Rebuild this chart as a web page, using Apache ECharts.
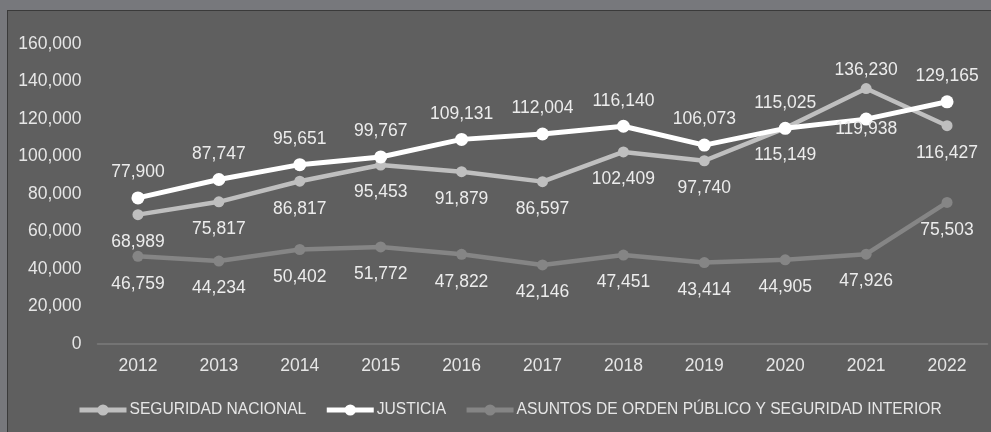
<!DOCTYPE html>
<html>
<head>
<meta charset="utf-8">
<script src="https://cdn.jsdelivr.net/npm/echarts@6/dist/echarts.min.js"></script>
<style>
html,body{margin:0;padding:0;background:#77787c;width:991px;height:432px;overflow:hidden;}
#box{position:absolute;left:7px;top:10px;width:1000px;height:440px;background:#5f5f5f;border-left:1px solid #3a3a3a;border-top:1px solid #3a3a3a;}
#chart{position:absolute;left:0;top:0;width:991px;height:432px;}
</style>
</head>
<body>
<div id="box"></div>
<div id="chart"></div>
<script>
const years = ['2012','2013','2014','2015','2016','2017','2018','2019','2020','2021','2022'];
const seguridadNacional = [68989, 75817, 86817, 95453, 91879, 86597, 102409, 97740, 115149, 136230, 116427];
const justicia = [77900, 87747, 95651, 99767, 109131, 112004, 116140, 106073, 115025, 119938, 129165];
const asuntosOrden = [46759, 44234, 50402, 51772, 47822, 42146, 47451, 43414, 44905, 47926, 75503];
const seriesNames = ['SEGURIDAD NACIONAL', 'JUSTICIA', 'ASUNTOS DE ORDEN PÚBLICO Y SEGURIDAD INTERIOR'];

const font = 'Liberation Sans, Arial, sans-serif';
const fmt = p => p.value.toLocaleString('en-US');
const labelBase = {show: true, formatter: fmt, color: '#ececec', fontSize: 17.5, fontFamily: font};

const chart = echarts.init(document.getElementById('chart'), null, {renderer: 'canvas'});
chart.setOption({
  backgroundColor: 'transparent',
  animation: false,
  grid: {left: 97.5, right: 3.5, top: 44, bottom: 88},
  legend: {
    left: 72, top: 397,
    itemWidth: 47, itemHeight: 14, itemGap: 18,
    lineStyle: {width: 5},
    textStyle: {color: '#e6e6e6', fontSize: 15.6, fontFamily: font, padding: [0,0,0,-2]},
    data: seriesNames
  },
  xAxis: {
    type: 'category', data: years, boundaryGap: true,
    axisLine: {lineStyle: {color: '#7c7c7c', width: 1.5}},
    axisTick: {show: false},
    axisLabel: {color: '#e6e6e6', fontSize: 17.5, fontFamily: font, margin: 13}
  },
  yAxis: {
    type: 'value', min: 0, max: 160000, interval: 20000,
    splitLine: {show: false},
    axisLine: {show: false}, axisTick: {show: false},
    axisLabel: {color: '#e6e6e6', fontSize: 17.5, fontFamily: font, margin: 16,
      formatter: v => v.toLocaleString('en-US')}
  },
  series: [
    {
      name: seriesNames[0], type: 'line', data: seguridadNacional.map((v, i) => {
        if (i === 9) return {value: v, label: {position: 'top', distance: 4}};
        return v;
      }),
      color: '#bfbfbf', symbol: 'circle', symbolSize: 11,
      lineStyle: {width: 4.5, color: '#bfbfbf'}, itemStyle: {color: '#bfbfbf'},
      label: Object.assign({}, labelBase, {position: 'bottom', distance: 13})
    },
    {
      name: seriesNames[1], type: 'line', data: justicia.map((v, i) => {
        if (i === 9) return {value: v, label: {position: 'inside', offset: [0, 10]}};
        return v;
      }),
      color: '#ffffff', symbol: 'circle', symbolSize: 13,
      lineStyle: {width: 5, color: '#ffffff'}, itemStyle: {color: '#ffffff'},
      label: Object.assign({}, labelBase, {position: 'top', distance: 10})
    },
    {
      name: seriesNames[2], type: 'line', data: asuntosOrden,
      color: '#858585', symbol: 'circle', symbolSize: 11,
      lineStyle: {width: 4.5, color: '#858585'}, itemStyle: {color: '#858585'},
      label: Object.assign({}, labelBase, {position: 'bottom', distance: 13})
    }
  ]
});
</script>
</body>
</html>
